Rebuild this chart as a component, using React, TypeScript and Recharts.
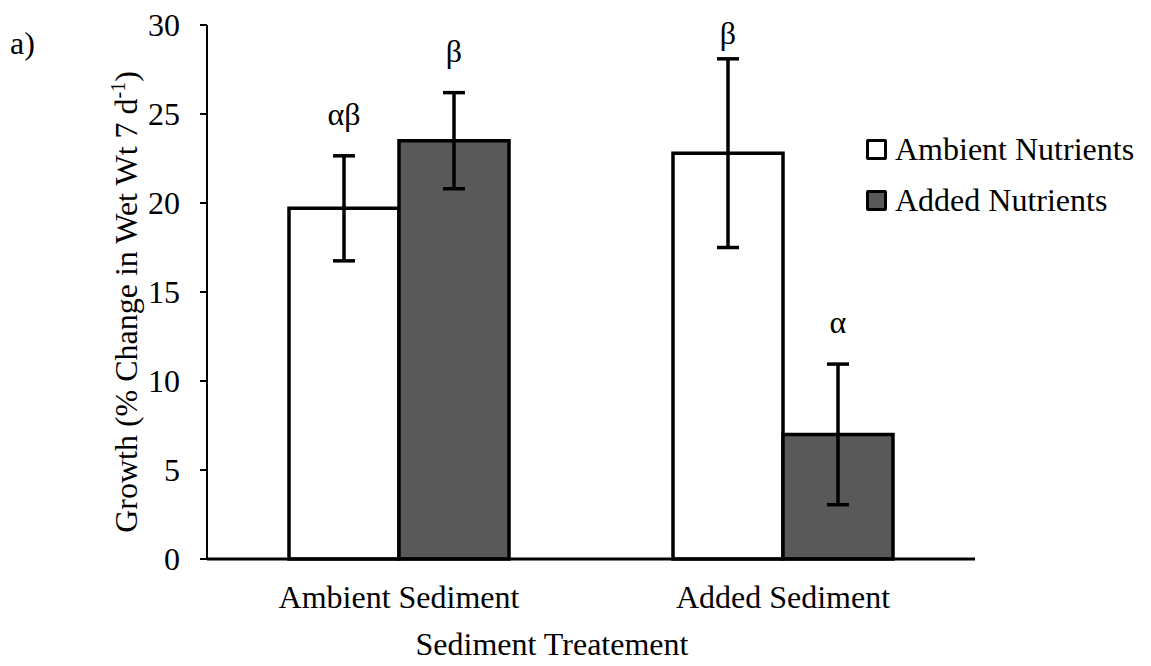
import { Bar, BarChart, ErrorBar, LabelList, Legend, XAxis, YAxis, Label } from "recharts"

const categories = ["Ambient Sediment", "Added Sediment"]
const seriesNames = ["Ambient Nutrients", "Added Nutrients"]
const ambientNutrients = [19.7, 22.8]
const ambientNutrientsErr = [2.95, 5.3]
const addedNutrients = [23.5, 7.0]
const addedNutrientsErr = [2.7, 3.95]
const ambientLetters = ["αβ", "β"]
const addedLetters = ["β", "α"]
const yTicks = [0, 5, 10, 15, 20, 25, 30]

const data = categories.map((category, i) => ({
  category,
  ambient: ambientNutrients[i],
  ambientErr: ambientNutrientsErr[i],
  added: addedNutrients[i],
  addedErr: addedNutrientsErr[i],
}))

const font = "'Liberation Serif', 'Times New Roman', serif"
const darkFill = "#595959"

// significance letters sit above the error bar cap, but never above the top of the plot
const letterLabel = (letters: string[], errs: number[]) => (props: any) => {
  const { x, y, width, height, value, index } = props
  const pxPerUnit = Number(height) / Number(value)
  const capY = Number(y) - errs[index] * pxPerUnit
  const baseline = Math.max(capY - 31, 44)
  return (
    <text x={Number(x) + Number(width) / 2} y={baseline} textAnchor="middle" fontSize={32} fontFamily={font} fill="#000">
      {letters[index]}
    </text>
  )
}

const LegendContent = (props: any) => {
  const items = [...(props.payload || [])].sort(
    (a: any, b: any) => seriesNames.indexOf(a.value) - seriesNames.indexOf(b.value)
  )
  return (
    <div style={{ fontFamily: font, fontSize: 32, color: "#000" }}>
      {items.map((item: any) => (
        <div key={item.value} style={{ display: "flex", alignItems: "center", height: 51 }}>
          <span
            style={{
              display: "inline-block",
              width: 15,
              height: 15,
              border: "3px solid #000",
              borderRadius: 2,
              background: item.payload?.fill ?? item.color,
              marginRight: 8,
            }}
          />
          <span>{item.value}</span>
        </div>
      ))}
    </div>
  )
}

export default function App() {
  return (
    <div style={{ position: "absolute", left: 0, top: 0, width: 1151, height: 666, background: "#fff" }}>
      <div style={{ position: "absolute", left: 10, top: 25, fontFamily: font, fontSize: 32 }}>a)</div>
      <BarChart
        width={1151}
        height={666}
        data={data}
        margin={{ top: 25, right: 176, bottom: 0, left: 0 }}
        barGap={0}
        barSize={110}
      >
        <XAxis
          dataKey="category"
          height={107}
          tickLine={false}
          axisLine={{ stroke: "#000", strokeWidth: 3 }}
          tickMargin={20}
          tick={{ fill: "#000", fontSize: 32, fontFamily: font }}
        >
          <Label
            content={(p: any) => (
              <text x={p.viewBox.x + 345} y={p.viewBox.y + 96} textAnchor="middle" fontSize={32} fontFamily={font} fill="#000">
                Sediment Treatement
              </text>
            )}
          />
        </XAxis>
        <YAxis
          width={207}
          domain={[0, 30]}
          ticks={yTicks}
          interval={0}
          tickSize={7}
          tickMargin={20}
          axisLine={{ stroke: "#000", strokeWidth: 2 }}
          tickLine={{ stroke: "#000", strokeWidth: 2 }}
          tick={{ fill: "#000", fontSize: 32, fontFamily: font }}
        >
          <Label
            content={(p: any) => {
              const cx = 137
              const cy = p.viewBox.y + p.viewBox.height / 2 + 10
              return (
                <text x={cx} y={cy} transform={`rotate(-90, ${cx}, ${cy})`} textAnchor="middle" fontSize={32} fontFamily={font} fill="#000">
                  Growth (% Change in Wet Wt 7 d
                  <tspan fontSize={20} dy={-12}>-1</tspan>
                  <tspan fontSize={32} dy={12}>)</tspan>
                </text>
              )
            }}
          />
        </YAxis>
        <Legend
          layout="vertical"
          align="center"
          verticalAlign="middle"
          wrapperStyle={{ left: 866, top: 124, width: 285 }}
          content={<LegendContent />}
        />
        <Bar dataKey="ambient" name="Ambient Nutrients" fill="#fff" stroke="#000" strokeWidth={3.5} isAnimationActive={false}>
          <ErrorBar dataKey="ambientErr" width={11} stroke="#000" strokeWidth={3.5} />
          <LabelList dataKey="ambient" content={letterLabel(ambientLetters, ambientNutrientsErr)} />
        </Bar>
        <Bar dataKey="added" name="Added Nutrients" fill={darkFill} stroke="#000" strokeWidth={3.5} isAnimationActive={false}>
          <ErrorBar dataKey="addedErr" width={11} stroke="#000" strokeWidth={3.5} />
          <LabelList dataKey="added" content={letterLabel(addedLetters, addedNutrientsErr)} />
        </Bar>
      </BarChart>
    </div>
  )
}
